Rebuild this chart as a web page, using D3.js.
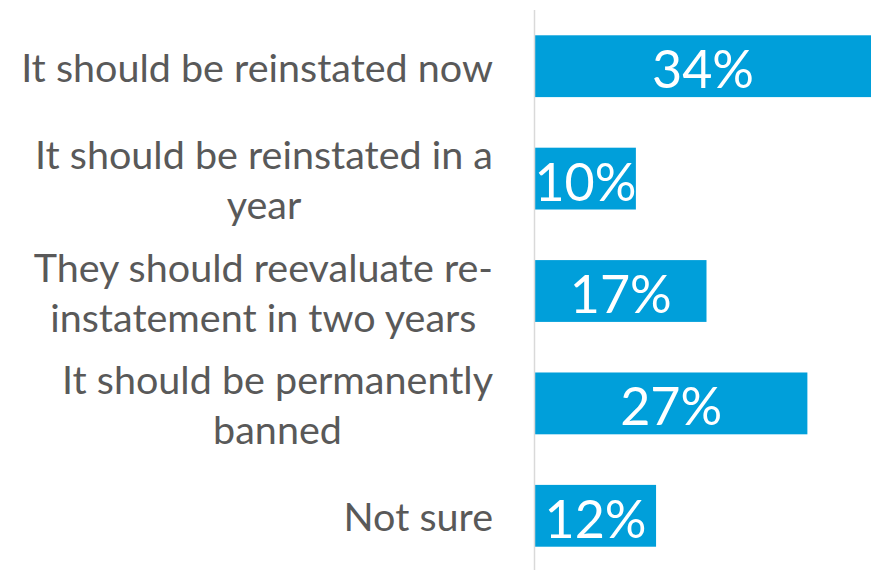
<!DOCTYPE html>
<html>
<head>
<meta charset="utf-8">
<script src="https://cdn.jsdelivr.net/npm/d3@7"></script>
<style>
  html, body { margin: 0; padding: 0; background: #ffffff; }
  svg { display: block; }
</style>
</head>
<body>
<svg id="chart" width="871" height="570"></svg>
<script>
// ---- data ----
const categories = [
  "It should be reinstated now",
  "It should be reinstated in a year",
  "They should reevaluate re-instatement in two years",
  "It should be permanently banned",
  "Not sure"
];
const labelLines = [
  ["It should be reinstated now"],
  ["It should be reinstated in a", "year"],
  ["They should reevaluate re-", "instatement in two years"],
  ["It should be permanently", "banned"],
  ["Not sure"]
];
const values = [34, 10, 17, 27, 12];
const valueLabels = ["34%", "10%", "17%", "27%", "12%"];

// ---- layout ----
const W = 871, H = 570;
const axisX = 535;
const svg = d3.select("#chart");

const x = d3.scaleLinear().domain([0, 34]).range([axisX, axisX + 343]);
const y = d3.scaleBand().domain(categories).range([10, 572])
  .paddingInner(0.45).paddingOuter(0.225);

const barColor = "#009fda";
const fontFam = "Lato, 'Open Sans', sans-serif";

// bars
svg.append("g").selectAll("rect").data(categories).join("rect")
  .attr("x", x(0))
  .attr("y", d => y(d))
  .attr("width", (d, i) => x(values[i]) - x(0))
  .attr("height", y.bandwidth())
  .attr("fill", barColor);

// axis line
const yAxis = d3.axisLeft(y).tickSize(0).tickFormat("");
const gAxis = svg.append("g").attr("transform", `translate(${axisX - 0.5},0)`).call(yAxis);
gAxis.select(".domain").remove();
svg.append("line")
  .attr("x1", axisX - 0.5).attr("x2", axisX - 0.5)
  .attr("y1", 10).attr("y2", H)
  .attr("stroke", "#d9d9d9").attr("stroke-width", 1.5);

// category labels (Excel style: block right-aligned, lines centered)
const labelRight = 493;
const lineH = 50;
const catFont = 39.5;
const gLab = svg.append("g");
categories.forEach((c, i) => {
  const lines = labelLines[i];
  const g = gLab.append("g");
  const texts = lines.map((ln, j) => g.append("text")
    .text(ln)
    .attr("font-family", fontFam)
    .attr("font-size", catFont)
    .attr("fill", "#595959")
    .attr("text-anchor", "middle")
    .attr("dominant-baseline", "central")
    .attr("y", y(c) + y.bandwidth() / 2 + (j - (lines.length - 1) / 2) * lineH));
  const maxW = d3.max(texts, t => t.node().getComputedTextLength());
  texts.forEach(t => t.attr("x", labelRight - maxW / 2));
});

// value labels
svg.append("g").selectAll("text").data(categories).join("text")
  .attr("x", (d, i) => (x(0) + Math.min(x(values[i]), W)) / 2)
  .attr("y", d => y(d) + y.bandwidth() / 2 + 2)
  .attr("text-anchor", "middle")
  .attr("dominant-baseline", "central")
  .attr("font-family", fontFam)
  .attr("font-size", 52)
  .attr("fill", "#ffffff")
  .text((d, i) => valueLabels[i]);
</script>
</body>
</html>
